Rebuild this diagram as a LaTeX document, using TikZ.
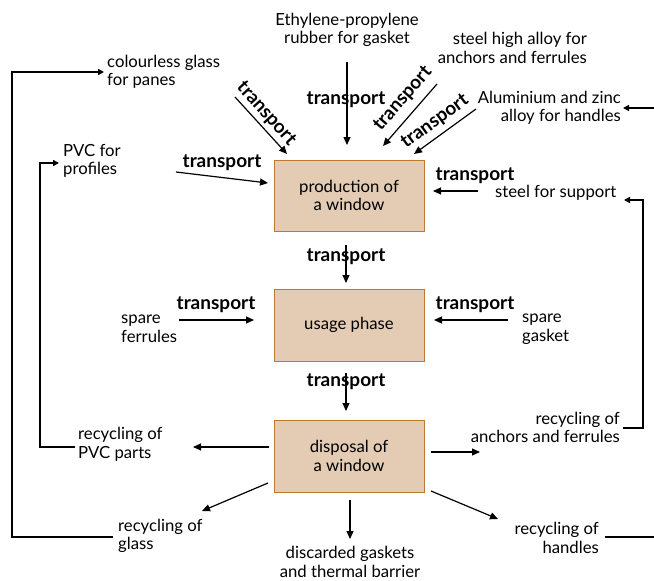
\documentclass[tikz,border=0pt]{standalone}
\usepackage{fontspec}
\setmainfont{Lato}
\usetikzlibrary{arrows.meta}
\definecolor{boxfill}{RGB}{228,204,180}
\definecolor{boxedge}{RGB}{192,120,48}
\begin{document}
\begin{tikzpicture}[x=1pt,y=-1pt,
  box/.style={draw=boxedge, fill=boxfill, line width=1pt, minimum width=150pt, minimum height=71pt, font=\fontsize{16.7}{18.5}\selectfont, align=center, inner sep=0pt},
  txt/.style={font=\fontsize{16.7}{18.5}\selectfont, inner sep=0pt},
  tr/.style={font=\bfseries\fontsize{19}{20}\selectfont, inner sep=0pt},
  arr/.style={-{Triangle[length=8pt,width=7pt]}, line width=1.2pt},
  fb/.style={line width=1.5pt},
  fbarr/.style={fb, -{Triangle[length=6pt,width=6pt]}},
]
\useasboundingbox (0,0) rectangle (654,581);

% boxes
\node[box] (prod) at (349,195.5) {production of\\a window};
\node[box, minimum height=72pt] (use) at (349,325) {usage phase};
\node[box, minimum height=72pt] (disp) at (349,456) {disposal of\\a window};

% input texts
\node[txt, align=center] (eth) at (347,30) {Ethylene-propylene\\rubber for gasket};
\node[txt, align=right, anchor=east] (steelhi) at (587,48) {steel high alloy for\\anchors and ferrules};
\node[txt, align=right, anchor=east] (alu) at (621,108) {Aluminium and zinc\\alloy for handles};
\node[txt, align=left, anchor=west] (glass) at (107,72) {colourless glass\\for panes};
\node[txt, align=left, anchor=west] (pvc) at (63,161) {PVC for\\profiles};
\node[txt, anchor=west] (steelsup) at (495,193) {steel for support};
\node[txt, align=left, anchor=west] (sferr) at (121,329) {spare\\ferrules};
\node[txt, align=left, anchor=west] (sgask) at (522,329) {spare\\gasket};

% output texts
\node[txt, align=left, anchor=west] (rpvc) at (78,444.5) {recycling of\\PVC parts};
\node[txt, align=left, anchor=west] (rglass) at (118,536) {recycling of\\glass};
\node[txt, align=center] (disc) at (350,562) {discarded gaskets\\and thermal barrier};
\node[txt, align=right, anchor=east] (rhand) at (599,538) {recycling of\\handles};
\node[txt, align=right, anchor=east] (ranch) at (620,427.5) {recycling of\\anchors and ferrules};

% transport labels
\node[tr] (t1) at (346,100) {transport};
\node[tr, rotate=-48] (t2) at (266,114) {transport};
\node[tr, rotate=49] (t3) at (403,99) {transport};
\node[tr, rotate=36] (t4) at (435,122) {transport};
\node[tr] (t5) at (222,163) {transport};
\node[tr] (t6) at (475,176) {transport};
\node[tr] (t7) at (346,257) {transport};
\node[tr] (t8) at (216,305) {transport};
\node[tr] (t9) at (475,305) {transport};
\node[tr] (t10) at (346,382) {transport};

% connector end points
\coordinate (a1s) at (347,62);   \coordinate (a1e) at (347,145);
\coordinate (a2s) at (235,97);   \coordinate (a2e) at (287,154);
\coordinate (a3s) at (437,84);   \coordinate (a3e) at (383,146);
\coordinate (a4s) at (476,109);  \coordinate (a4e) at (414,154);
\coordinate (a5s) at (176,172);  \coordinate (a5e) at (268,183);
\coordinate (a6s) at (478,191);  \coordinate (a6e) at (433,191);
\coordinate (a7s) at (346,245);  \coordinate (a7e) at (346,283);
\coordinate (a8s) at (179,320);  \coordinate (a8e) at (254,320);
\coordinate (a9s) at (508,320);  \coordinate (a9e) at (434,320);
\coordinate (a10s) at (346,373); \coordinate (a10e) at (346,411);
\coordinate (a11s) at (269,447); \coordinate (a11e) at (193,447);
\coordinate (a12s) at (268,483); \coordinate (a12e) at (202,511);
\coordinate (a13s) at (350,500); \coordinate (a13e) at (350,539);
\coordinate (a14s) at (431,491); \coordinate (a14e) at (498,519);
\coordinate (a15s) at (431,452); \coordinate (a15e) at (480,452);

\draw[arr] (a1s) -- (a1e);
\draw[arr] (a2s) -- (a2e);
\draw[arr] (a3s) -- (a3e);
\draw[arr] (a4s) -- (a4e);
\draw[arr] (a5s) -- (a5e);
\draw[arr] (a6s) -- (a6e);
\draw[arr] (a7s) -- (a7e);
\draw[arr] (a8s) -- (a8e);
\draw[arr] (a9s) -- (a9e);
\draw[arr] (a10s) -- (a10e);
\draw[arr] (a11s) -- (a11e);
\draw[arr] (a12s) -- (a12e);
\draw[arr] (a13s) -- (a13e);
\draw[arr] (a14s) -- (a14e);
\draw[arr] (a15s) -- (a15e);

% feedback loops
\coordinate (fg0) at (113,537); \coordinate (fg1) at (12,537); \coordinate (fg2) at (12,72); \coordinate (fg3) at (104,72);
\draw[fbarr] (fg0) -- (fg1) -- (fg2) -- (fg3);
\coordinate (fp0) at (75,447); \coordinate (fp1) at (40,447); \coordinate (fp2) at (40,163); \coordinate (fp3) at (59,163);
\draw[fbarr] (fp0) -- (fp1) -- (fp2) -- (fp3);
\coordinate (fa0) at (623,428); \coordinate (fa1) at (643,428); \coordinate (fa2) at (643,200); \coordinate (fa3) at (624,200);
\draw[fbarr] (fa0) -- (fa1) -- (fa2) -- (fa3);
\coordinate (fh0) at (654,108); \coordinate (fh1) at (623,108);
\draw[fbarr] (fh0) -- (fh1);
\coordinate (fr0) at (605,537); \coordinate (fr1) at (654,537);
\draw[fb] (fr0) -- (fr1);
\end{tikzpicture}
\end{document}
